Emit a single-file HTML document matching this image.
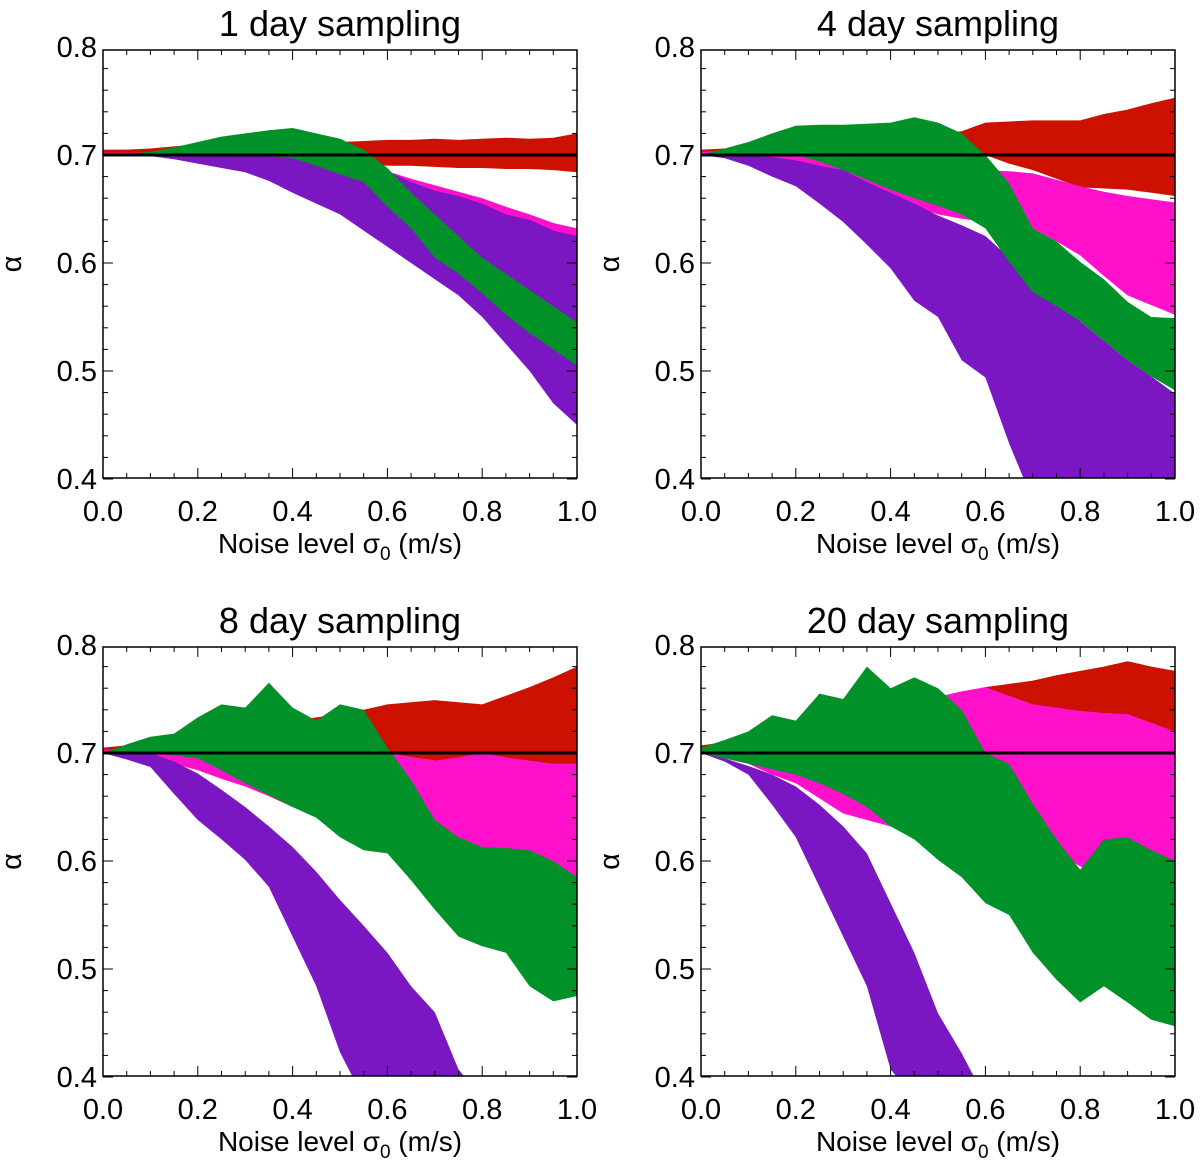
<!DOCTYPE html>
<html><head><meta charset="utf-8"><style>
body{margin:0;background:#fff;}
svg text{font-family:"Liberation Sans",sans-serif;fill:#000;}
</style></head><body>
<svg id="chart" width="1200" height="1165" viewBox="0 0 1200 1165" xmlns="http://www.w3.org/2000/svg"></svg>
<script>
const xs=[0,0.05,0.1,0.15,0.2,0.25,0.3,0.35,0.4,0.45,0.5,0.55,0.6,0.65,0.7,0.75,0.8,0.85,0.9,0.95,1.0];
const panelTitles=["1 day sampling","4 day sampling","8 day sampling","20 day sampling"];
const xTickLabels=["0.0","0.2","0.4","0.6","0.8","1.0"];
const yTickLabels=["0.4","0.5","0.6","0.7","0.8"];
const refValue=0.7;
// panel 1
const p1RedHi=[0.705,0.705,0.706,0.708,0.71,0.71,0.71,0.712,0.712,0.712,0.712,0.713,0.714,0.714,0.715,0.714,0.715,0.716,0.715,0.716,0.72];
const p1RedLo=[0.7,0.7,0.7,0.699,0.698,0.697,0.696,0.695,0.695,0.694,0.693,0.692,0.69,0.69,0.689,0.688,0.688,0.687,0.687,0.686,0.684];
const p1PinkHi=[0.702,0.702,0.702,0.702,0.701,0.701,0.7,0.7,0.7,0.699,0.698,0.694,0.685,0.678,0.672,0.666,0.66,0.652,0.645,0.637,0.632];
const p1PinkLo=[0.7,0.7,0.7,0.698,0.695,0.692,0.688,0.68,0.67,0.66,0.65,0.636,0.622,0.608,0.594,0.58,0.56,0.536,0.512,0.482,0.462];
const p1PurHi=[0.7,0.7,0.7,0.7,0.7,0.7,0.7,0.7,0.7,0.698,0.695,0.69,0.685,0.675,0.667,0.662,0.655,0.645,0.64,0.63,0.625];
const p1PurLo=[0.7,0.7,0.699,0.696,0.692,0.688,0.684,0.676,0.665,0.655,0.645,0.63,0.615,0.6,0.585,0.57,0.55,0.525,0.5,0.47,0.45];
const p1GrnHi=[0.7,0.701,0.703,0.707,0.712,0.717,0.72,0.723,0.725,0.72,0.715,0.705,0.688,0.665,0.645,0.625,0.605,0.59,0.575,0.56,0.545];
const p1GrnLo=[0.7,0.7,0.7,0.7,0.7,0.7,0.7,0.699,0.697,0.69,0.682,0.675,0.652,0.632,0.605,0.59,0.572,0.552,0.535,0.52,0.505];
// panel 2
const p2RedHi=[0.705,0.706,0.708,0.71,0.712,0.714,0.716,0.718,0.72,0.72,0.72,0.722,0.73,0.731,0.732,0.732,0.732,0.738,0.742,0.748,0.753];
const p2RedLo=[0.7,0.7,0.7,0.699,0.698,0.697,0.696,0.695,0.694,0.693,0.692,0.695,0.7,0.692,0.686,0.678,0.67,0.669,0.668,0.665,0.662];
const p2PinkHi=[0.703,0.704,0.705,0.705,0.704,0.7,0.686,0.68,0.675,0.665,0.656,0.67,0.686,0.685,0.683,0.677,0.671,0.666,0.662,0.659,0.656];
const p2PinkLo=[0.7,0.699,0.695,0.69,0.685,0.68,0.675,0.668,0.66,0.652,0.645,0.641,0.638,0.635,0.632,0.62,0.607,0.588,0.57,0.561,0.552];
const p2PurHi=[0.7,0.7,0.7,0.698,0.695,0.69,0.686,0.675,0.665,0.655,0.644,0.635,0.625,0.605,0.583,0.565,0.546,0.528,0.51,0.495,0.479];
const p2PurLo=[0.7,0.697,0.69,0.68,0.671,0.655,0.638,0.617,0.595,0.565,0.55,0.51,0.494,0.433,0.38,0.38,0.38,0.38,0.38,0.38,0.38];
const p2GrnHi=[0.7,0.706,0.712,0.72,0.727,0.728,0.728,0.729,0.73,0.735,0.73,0.72,0.7,0.674,0.632,0.62,0.601,0.585,0.564,0.55,0.549];
const p2GrnLo=[0.7,0.7,0.7,0.7,0.7,0.694,0.686,0.677,0.668,0.66,0.653,0.645,0.632,0.601,0.573,0.56,0.546,0.528,0.51,0.495,0.482];
// panel 3
const p3RedHi=[0.705,0.707,0.71,0.712,0.715,0.718,0.72,0.725,0.73,0.733,0.736,0.74,0.745,0.747,0.749,0.747,0.745,0.753,0.761,0.77,0.78];
const p3RedLo=[0.7,0.7,0.7,0.699,0.698,0.697,0.696,0.698,0.7,0.7,0.7,0.7,0.7,0.696,0.693,0.687,0.681,0.675,0.669,0.665,0.662];
const p3PinkHi=[0.703,0.703,0.702,0.701,0.7,0.7,0.7,0.7,0.7,0.692,0.684,0.692,0.7,0.696,0.693,0.696,0.7,0.696,0.693,0.69,0.69];
const p3PinkLo=[0.7,0.698,0.695,0.69,0.684,0.676,0.669,0.66,0.65,0.641,0.632,0.622,0.613,0.62,0.626,0.613,0.6,0.594,0.589,0.582,0.576];
const p3PurHi=[0.7,0.7,0.7,0.692,0.681,0.666,0.65,0.632,0.613,0.59,0.564,0.54,0.515,0.484,0.46,0.407,0.38,0.38,0.38,0.38,0.38];
const p3PurLo=[0.7,0.694,0.687,0.662,0.638,0.62,0.601,0.576,0.53,0.484,0.423,0.38,0.38,0.38,0.38,0.38,0.38,0.38,0.38,0.38,0.38];
const p3GrnHi=[0.7,0.708,0.715,0.718,0.733,0.745,0.742,0.765,0.742,0.73,0.745,0.74,0.705,0.675,0.638,0.622,0.613,0.612,0.61,0.6,0.585];
const p3GrnLo=[0.7,0.7,0.7,0.698,0.695,0.684,0.672,0.661,0.65,0.64,0.622,0.61,0.607,0.582,0.555,0.53,0.521,0.515,0.484,0.47,0.475];
// panel 4
const p4RedHi=[0.707,0.71,0.712,0.715,0.715,0.72,0.73,0.74,0.745,0.745,0.745,0.752,0.761,0.764,0.767,0.772,0.776,0.78,0.785,0.78,0.776];
const p4RedLo=[0.7,0.698,0.695,0.692,0.688,0.684,0.68,0.68,0.68,0.69,0.7,0.71,0.72,0.724,0.727,0.724,0.721,0.722,0.724,0.72,0.715];
const p4PinkHi=[0.705,0.708,0.71,0.705,0.7,0.7,0.7,0.705,0.72,0.735,0.752,0.757,0.761,0.753,0.745,0.742,0.739,0.737,0.736,0.728,0.72];
const p4PinkLo=[0.7,0.695,0.69,0.68,0.672,0.658,0.644,0.638,0.632,0.622,0.613,0.625,0.638,0.63,0.622,0.608,0.595,0.585,0.576,0.588,0.6];
const p4PurHi=[0.7,0.695,0.688,0.68,0.669,0.652,0.632,0.607,0.561,0.515,0.459,0.422,0.38,0.38,0.38,0.38,0.38,0.38,0.38,0.38,0.38];
const p4PurLo=[0.7,0.692,0.68,0.652,0.622,0.576,0.53,0.484,0.407,0.38,0.38,0.38,0.38,0.38,0.38,0.38,0.38,0.38,0.38,0.38,0.38];
const p4GrnHi=[0.705,0.712,0.72,0.735,0.73,0.755,0.75,0.78,0.76,0.77,0.76,0.74,0.7,0.69,0.653,0.62,0.592,0.62,0.622,0.61,0.6];
const p4GrnLo=[0.7,0.695,0.69,0.685,0.68,0.672,0.662,0.65,0.632,0.62,0.601,0.585,0.561,0.55,0.515,0.49,0.469,0.484,0.469,0.453,0.447];

const panels=[
 {l:103,r:577,t:50,b:478,y07:155,bands:[[p1RedHi,p1RedLo],[p1PinkHi,p1PinkLo],[p1PurHi,p1PurLo],[p1GrnHi,p1GrnLo]]},
 {l:701,r:1175,t:50,b:478,y07:155,bands:[[p2RedHi,p2RedLo],[p2PinkHi,p2PinkLo],[p2PurHi,p2PurLo],[p2GrnHi,p2GrnLo]]},
 {l:103,r:577,t:647,b:1076,y07:753,bands:[[p3RedHi,p3RedLo],[p3PinkHi,p3PinkLo],[p3PurHi,p3PurLo],[p3GrnHi,p3GrnLo]]},
 {l:701,r:1175,t:647,b:1076,y07:753,bands:[[p4RedHi,p4RedLo],[p4PinkHi,p4PinkLo],[p4PurHi,p4PurLo],[p4GrnHi,p4GrnLo]]}
];
const colors=["#cc1100","#ff11cc","#7a16c2","#009128"];
const bandNames=["red","pink","purple","green"];
const NS="http://www.w3.org/2000/svg";
const svg=document.getElementById('chart');
function mk(tag,attrs,parent){const e=document.createElementNS(NS,tag);for(const k in attrs)e.setAttribute(k,attrs[k]);(parent||svg).appendChild(e);return e;}
panels.forEach((p,i)=>{
  const g=mk('g',{});
  
  
  const X=v=>p.l+v*(p.r-p.l);
  const Y=v=>p.y07-(v-0.7)*1080;
  const cp=mk('clipPath',{id:'cp'+i},g);
  mk('rect',{x:p.l,y:p.t,width:p.r-p.l,height:p.b-p.t},cp);
  const fills=mk('g',{'clip-path':'url(#cp'+i+')'},g);
  p.bands.forEach((bd,j)=>{
    let d='M';
    xs.forEach((x,k)=>{d+=X(x).toFixed(1)+','+Y(bd[0][k]).toFixed(1)+' L';});
    for(let k=xs.length-1;k>=0;k--){d+=X(xs[k]).toFixed(1)+','+Y(bd[1][k]).toFixed(1)+(k>0?' L':' Z');}
    const path=mk('path',{d:d,fill:colors[j]},fills);
    
    
  });
  const ref=mk('line',{x1:p.l,x2:p.r,y1:Y(refValue),y2:Y(refValue),stroke:'#000','stroke-width':3},g);
  
  
  for(let k=0;k<=20;k++){const v=k*0.05;const len=(k%4===0)?10:5;const x=X(v);
    mk('line',{x1:x,x2:x,y1:p.b,y2:p.b-len,stroke:'#000','stroke-width':1},g);
    mk('line',{x1:x,x2:x,y1:p.t,y2:p.t+len,stroke:'#000','stroke-width':1},g);}
  for(let k=0;k<=20;k++){const v=0.4+k*0.02;const y=Y(v);if(y<p.t-1||y>p.b+1)continue;const len=(k%5===0)?10:5;
    mk('line',{x1:p.l,x2:p.l+len,y1:y,y2:y,stroke:'#000','stroke-width':1},g);
    mk('line',{x1:p.r,x2:p.r-len,y1:y,y2:y,stroke:'#000','stroke-width':1},g);}
  const frame=mk('rect',{x:p.l,y:p.t,width:p.r-p.l,height:p.b-p.t,fill:'none',stroke:'#000','stroke-width':1.5},g);
  
  
  xTickLabels.forEach((s,k)=>{const t=mk('text',{x:X(k*0.2),y:p.b+43,'text-anchor':'middle','font-size':29},g);t.textContent=s;
    
    });
  yTickLabels.forEach((s,k)=>{const t=mk('text',{x:p.l-6,y:Y(0.4+k*0.1)+10,'text-anchor':'end','font-size':29},g);t.textContent=s;
    
    });
  const tt=mk('text',{x:(p.l+p.r)/2,y:p.t-14,'text-anchor':'middle','font-size':36},g);tt.textContent=panelTitles[i];
  
  
  const xt=mk('text',{x:(p.l+p.r)/2,y:p.b+75,'text-anchor':'middle','font-size':28},g);
  xt.innerHTML='Noise level σ<tspan dy="7" font-size="19">0</tspan><tspan dy="-7"> (m/s)</tspan>';
  
  
  const yt=mk('text',{x:0,y:0,'text-anchor':'middle','font-size':29,transform:'translate('+(p.l-82)+','+((p.t+p.b)/2)+') rotate(-90)'},g);yt.textContent='α';
  
  
});
</script>
</body></html>
